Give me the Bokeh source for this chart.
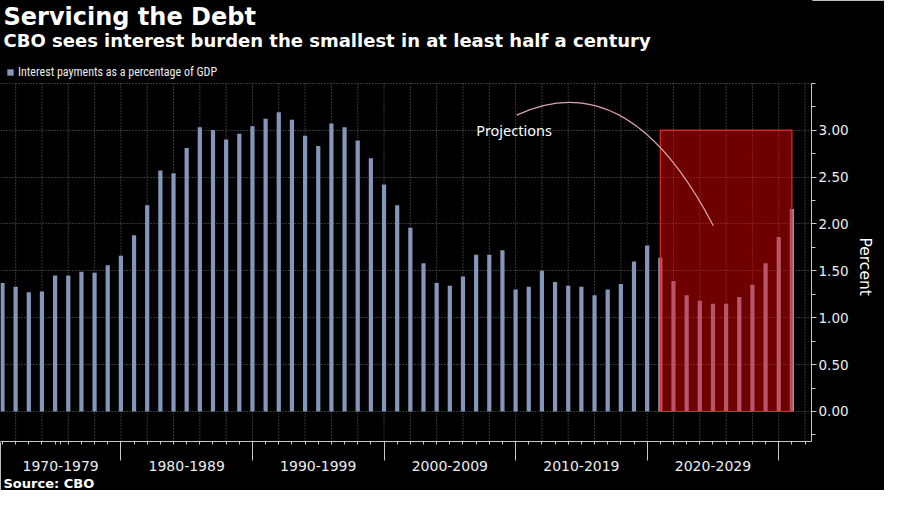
from bokeh.plotting import figure
from bokeh.models import (ColumnDataSource, FixedTicker, Label, Legend, LegendItem,
                          PrintfTickFormatter, Title)
from bokeh.embed import file_html
from bokeh.resources import INLINE

# ---------------- data ----------------
years = list(range(1970, 2031))
interest_pct = [
    1.37, 1.33, 1.27, 1.28, 1.45, 1.45, 1.49, 1.48, 1.56, 1.66,   # 1970-1979
    1.88, 2.20, 2.57, 2.54, 2.81, 3.03, 3.00, 2.90, 2.96, 3.04,   # 1980-1989
    3.12, 3.19, 3.11, 2.94, 2.83, 3.07, 3.03, 2.89, 2.70, 2.42,   # 1990-1999
    2.20, 1.96, 1.58, 1.37, 1.34, 1.44, 1.67, 1.67, 1.72, 1.30,   # 2000-2009
    1.33, 1.50, 1.38, 1.34, 1.33, 1.24, 1.30, 1.36, 1.60, 1.77,   # 2010-2019
    1.64, 1.39, 1.24, 1.18, 1.15, 1.15, 1.22, 1.35, 1.58, 1.86,   # 2020-2029
    2.16,                                                          # 2030
]
decade_labels = ["1970-1979", "1980-1989", "1990-1999", "2000-2009", "2010-2019", "2020-2029"]
decade_bounds = [1979, 1989, 1999, 2009, 2019, 2029]
projection_start = 2020
projection_end = 2030
projection_top = 3.0
y_ticks = [0.0, 0.5, 1.0, 1.5, 2.0, 2.5, 3.0]
y_minor_ticks = [-0.25, 0.25, 0.75, 1.25, 1.75, 2.25, 2.75, 3.25, 3.5]
y_grid_ticks = [0.0, 0.5, 1.0, 1.5, 2.0, 2.5, 3.0, 3.5]
x_grid_ticks = list(range(1971, 2032, 2))

# annotation arc (data coordinates)
arc_x0, arc_y0 = [2009.08], [3.16]
arc_cx, arc_cy = [2017.6], [3.72]
arc_x1, arc_y1 = [2024.03], [1.98]
proj_text_x, proj_text_y = 2006.0, 2.89

X_START, X_END = 1969.85, 2031.49
# Y_TOP: top of the value grid; Y_END extends the frame up to hold title, subtitle and legend
Y_START, Y_TOP, Y_END = -0.32, 3.5, 4.382

# ---------------- figure ----------------
p = figure(width=884, height=490, x_range=(X_START, X_END), y_range=(Y_START, Y_END),
           output_backend="svg", toolbar_location=None, y_axis_location="right",
           min_border_left=0, min_border_right=73, min_border_top=0, min_border_bottom=37,
           background_fill_color="black", border_fill_color="black")
p.outline_line_color = "black"
p.outline_line_width = 2

GRID = "#6a6a6a"
AXIS = "#c8c8c8"
TXT = "#ececec"

# vertical dotted grid lines (only over the value area)
p.xgrid.visible = False
p.segment(x0=x_grid_ticks, x1=x_grid_ticks, y0=[Y_START] * len(x_grid_ticks),
          y1=[Y_TOP] * len(x_grid_ticks), line_color=GRID, line_dash="1 2", line_width=1)
p.ygrid.ticker = FixedTicker(ticks=y_grid_ticks)
p.ygrid.bounds = (Y_START, Y_TOP)
p.ygrid.grid_line_color = GRID
p.ygrid.grid_line_dash = "1 2"

src = ColumnDataSource(dict(year=years, pct=interest_pct))
bars = p.vbar(x="year", top="pct", bottom=0, width=0.32, source=src,
              fill_color="#8496ba", line_color=None)

# projection box
p.quad(left=[projection_start], right=[projection_end], bottom=[0], top=[projection_top],
       fill_color="#ff0000", fill_alpha=0.43, line_color="#e62a2a", line_width=1.2)

# arc + label
p.quadratic(x0=arc_x0, y0=arc_y0, x1=arc_x1, y1=arc_y1, cx=arc_cx, cy=arc_cy,
            line_color="#dba6ae", line_width=1.2)
p.add_layout(Label(x=proj_text_x, y=proj_text_y, text="Projections", text_font="Noto Sans",
                   text_font_size="14.5px", text_color="white"))

# x axis: decade labels centred on the visible part of each decade,
# long minor ticks as decade separators, short ticks for each year
starts = [X_START] + decade_bounds[:-1]
centers = [round((a + b) / 2, 2) for a, b in zip(starts, decade_bounds)]
year_ticks = [y for y in years + [2031] if y not in centers]
xa = p.xaxis[0]
xa.ticker = FixedTicker(ticks=sorted(centers + year_ticks), minor_ticks=decade_bounds)
overrides = {y: "" for y in year_ticks}
overrides.update({c: lab for c, lab in zip(centers, decade_labels)})
xa.major_label_overrides = overrides
xa.major_tick_out = 3
xa.major_tick_in = 0
xa.minor_tick_out = 19
xa.minor_tick_in = 0
xa.major_label_standoff = 0
xa.major_label_text_font = "DejaVu Sans"
xa.major_label_text_font_size = "14px"
xa.major_label_text_color = TXT
for attr in ("axis_line_color", "major_tick_line_color", "minor_tick_line_color"):
    setattr(xa, attr, AXIS)

# y axis (right)
ya = p.yaxis[0]
ya.bounds = (Y_START, Y_TOP)
ya.ticker = FixedTicker(ticks=y_ticks, minor_ticks=y_minor_ticks)
ya.formatter = PrintfTickFormatter(format="%.2f")
ya.major_label_text_font = "DejaVu Sans"
ya.major_label_text_font_size = "13.5px"
ya.major_label_text_color = TXT
ya.major_label_standoff = 2
ya.major_tick_out = 5
ya.major_tick_in = 0
ya.minor_tick_out = 4
ya.minor_tick_in = 0
for attr in ("axis_line_color", "major_tick_line_color", "minor_tick_line_color"):
    setattr(ya, attr, AXIS)
p.add_layout(Title(text="Percent", align="left", offset=237, standoff=8,
                   text_font="DejaVu Sans", text_font_style="normal", text_font_size="15.5px",
                   text_color="white"), "right")

# title, subtitle (screen units from the frame's bottom-left)
p.add_layout(Label(x=3, y=425, x_units="screen", y_units="screen", text="Servicing the Debt",
                   text_font="DejaVu Sans", text_font_style="bold", text_font_size="24px",
                   text_color="white", text_baseline="alphabetic"))
p.add_layout(Label(x=3, y=401, x_units="screen", y_units="screen",
                   text="CBO sees interest burden the smallest in at least half a century",
                   text_font="DejaVu Sans", text_font_style="bold", text_font_size="18px",
                   text_color="white", text_baseline="alphabetic"))

# legend row
legend = Legend(items=[LegendItem(label="Interest payments as a percentage of GDP", renderers=[bars])],
                location=(6, 362), orientation="horizontal",
                background_fill_alpha=0, border_line_color=None, padding=0, margin=0, spacing=0,
                label_text_font="Roboto Condensed, Roboto", label_text_font_size="12px",
                label_text_color=TXT, glyph_width=8, glyph_height=8, label_standoff=4,
                label_height=12)
p.add_layout(legend)

p.add_layout(Title(text="Source:  CBO", align="left", offset=3, standoff=0,
                   text_font="DejaVu Sans", text_font_style="bold", text_font_size="13px",
                   text_color="white"), "below")

open("out.html", "w").write(file_html(p, INLINE))
